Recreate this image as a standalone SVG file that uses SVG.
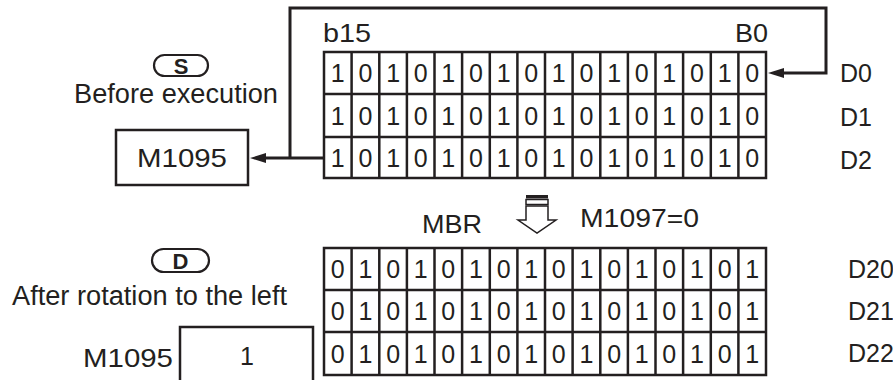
<svg xmlns="http://www.w3.org/2000/svg" width="893" height="380" viewBox="0 0 893 380">
<style>
text{font-family:"Liberation Sans",Arial,sans-serif;fill:#231f20}
.lbl{font-size:25px}
.big{font-size:27px}
.bit{font-size:25px;text-anchor:middle}
.grid{fill:none;stroke:#231f20;stroke-width:2.5}
.box{fill:#fff;stroke:#231f20;stroke-width:2.5}
.pill{fill:#fff;stroke:#231f20;stroke-width:2.2}
.pt{font-size:22px;font-weight:bold;text-anchor:middle}
.wire{fill:none;stroke:#231f20;stroke-width:3}
</style>
<defs>
<marker id="ah" viewBox="0 0 16 10" refX="6" refY="5" markerWidth="16" markerHeight="10" markerUnits="userSpaceOnUse" orient="auto">
<path d="M0 0 L16 5 L0 10 Z" fill="#231f20"/>
</marker>
</defs>
<rect width="893" height="380" fill="#fff"/>

<g id="connectors">
<path class="wire" d="M290 158 V8 H826 V73 H778" marker-end="url(#ah)"/>
<path class="wire" d="M324 158 H260" marker-end="url(#ah)"/>
</g>

<g id="src-label">
<rect class="pill" x="154" y="55" width="54" height="21" rx="10.5"/>
<text class="pt" x="181" y="73.5">S</text>
<text class="big" x="74" y="103" textLength="204" lengthAdjust="spacingAndGlyphs">Before execution</text>
</g>

<g id="m1095-src">
<rect class="box" x="116" y="130" width="132" height="55"/>
<text class="lbl" x="137" y="167" textLength="90" lengthAdjust="spacingAndGlyphs">M1095</text>
</g>

<g id="grid-src">
<text class="lbl" x="323" y="42" textLength="48" lengthAdjust="spacingAndGlyphs">b15</text>
<text class="lbl" x="735" y="42" textLength="33" lengthAdjust="spacingAndGlyphs">B0</text>
<rect class="grid" x="324" y="52" width="442" height="126"/>
<path class="grid" d="M324 94H766M324 137H766M351.6 52V178M379.3 52V178M406.9 52V178M434.5 52V178M462.1 52V178M489.8 52V178M517.4 52V178M545 52V178M572.6 52V178M600.3 52V178M627.9 52V178M655.5 52V178M683.1 52V178M710.8 52V178M738.4 52V178"/>
<text class="bit" x="337.8 365.4 393.1 420.7 448.3 476 503.6 531.2 558.8 586.4 614.1 641.7 669.3 697 724.6 752.2" y="82">1010101010101010</text>
<text class="bit" x="337.8 365.4 393.1 420.7 448.3 476 503.6 531.2 558.8 586.4 614.1 641.7 669.3 697 724.6 752.2" y="124.5">1010101010101010</text>
<text class="bit" x="337.8 365.4 393.1 420.7 448.3 476 503.6 531.2 558.8 586.4 614.1 641.7 669.3 697 724.6 752.2" y="166.5">1010101010101010</text>
<text class="lbl" x="840" y="82">D0</text>
<text class="lbl" x="840" y="126">D1</text>
<text class="lbl" x="840" y="169">D2</text>
</g>

<g id="mbr">
<text class="lbl" x="422" y="233" textLength="60" lengthAdjust="spacingAndGlyphs">MBR</text>
<rect x="526" y="195" width="22" height="3.5" fill="#231f20"/>
<rect x="526" y="199.5" width="22" height="5" fill="#fff" stroke="#231f20" stroke-width="1.5"/>
<path d="M526 206 H548 V220 H556 L537 233 L518 220 H526 Z" fill="#fff" stroke="#231f20" stroke-width="1.5" stroke-linejoin="miter"/>
<text class="lbl" x="580" y="227" textLength="119" lengthAdjust="spacingAndGlyphs">M1097=0</text>
</g>

<g id="dst-label">
<rect class="pill" x="152" y="249" width="57" height="23" rx="11.5"/>
<text class="pt" x="180.5" y="268.5">D</text>
<text class="big" x="12" y="305" textLength="275" lengthAdjust="spacingAndGlyphs">After rotation to the left</text>
</g>

<g id="m1095-dst">
<text class="lbl" x="83" y="367" textLength="90" lengthAdjust="spacingAndGlyphs">M1095</text>
<path class="grid" d="M180 382 V327 H313 V382"/>
<text class="lbl" x="247" y="365" text-anchor="middle">1</text>
</g>

<g id="grid-dst">
<rect class="grid" x="324" y="248" width="442" height="127"/>
<path class="grid" d="M324 290H766M324 332H766M351.6 248V375M379.3 248V375M406.9 248V375M434.5 248V375M462.1 248V375M489.8 248V375M517.4 248V375M545 248V375M572.6 248V375M600.3 248V375M627.9 248V375M655.5 248V375M683.1 248V375M710.8 248V375M738.4 248V375"/>
<text class="bit" x="337.8 365.4 393.1 420.7 448.3 476 503.6 531.2 558.8 586.4 614.1 641.7 669.3 697 724.6 752.2" y="278">0101010101010101</text>
<text class="bit" x="337.8 365.4 393.1 420.7 448.3 476 503.6 531.2 558.8 586.4 614.1 641.7 669.3 697 724.6 752.2" y="320">0101010101010101</text>
<text class="bit" x="337.8 365.4 393.1 420.7 448.3 476 503.6 531.2 558.8 586.4 614.1 641.7 669.3 697 724.6 752.2" y="362.5">0101010101010101</text>
<text class="lbl" x="848" y="278">D20</text>
<text class="lbl" x="848" y="320">D21</text>
<text class="lbl" x="848" y="362">D22</text>
</g>
</svg>
